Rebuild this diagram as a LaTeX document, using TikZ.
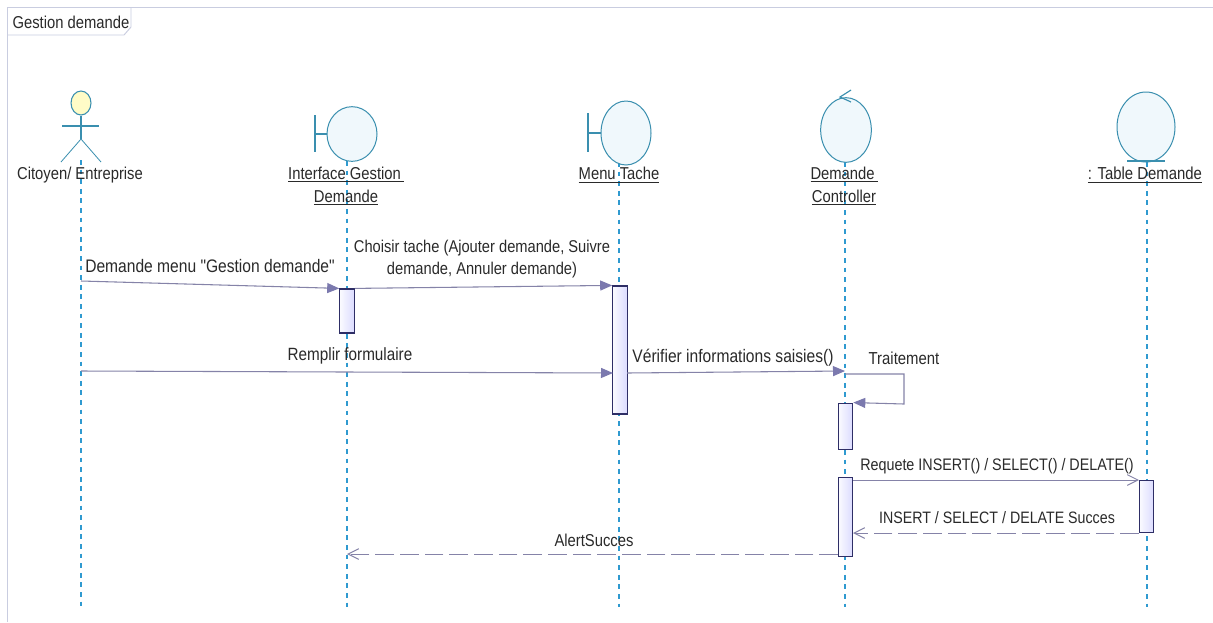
\documentclass[tikz,border=0pt]{standalone}
\usepackage{fontspec}
\newfontfamily\lblf[FakeStretch=0.86]{Liberation Sans}
\usetikzlibrary{arrows.meta,shapes.geometric}
\definecolor{lifec}{HTML}{2F9AD0}
\definecolor{iconc}{HTML}{3A8FAF}
\definecolor{iconf}{HTML}{F0F8FC}
\definecolor{msgc}{HTML}{8583A8}
\definecolor{tipc}{HTML}{7B79AE}
\definecolor{actc}{HTML}{2E2E66}
\definecolor{txtc}{HTML}{2A2A2A}
\definecolor{framec}{HTML}{C9CDE0}
\newcommand{\fsz}[1]{\lblf\fontsize{#1}{16.5pt}\selectfont}
\tikzset{
  x=0.75pt,y=-0.75pt,
  every node/.style={font=\fsz{12.9pt},text=txtc,inner sep=0pt,align=center},
  lifeline/.style={draw=lifec,line width=0.9pt,dash pattern=on 3.6pt off 3.6pt},
  icon/.style={draw=iconc,line width=0.75pt,fill=iconf,ellipse},
  iconline/.style={draw=iconc,line width=0.85pt},
  act/.style={draw=actc,line width=0.9pt,left color=white!70!blue!6,right color=blue!14,minimum width=10.8pt,rectangle},
  msg/.style={draw=msgc,line width=0.8pt,-{Triangle[length=9pt,width=7.5pt,fill=tipc,color=tipc]}},
  msgopen/.style={draw=msgc,line width=0.75pt,-{Straight Barb[length=8pt,width=8pt,color=msgc]}},
  msgdash/.style={msgopen,dash pattern=on 14pt off 4.5pt},
}
\begin{document}
\begin{tikzpicture}
\useasboundingbox (0,0) rectangle (1213,622);
\fill[white] (0,0) rectangle (1213,622);
% frame
\draw[framec,line width=0.7pt] (7,622) -- (7,7) -- (1213,7);
\draw[framec,line width=0.7pt] (7,35) -- (124,35) -- (131,27) -- (131,7);
\node (title) at (71,22) {Gestion demande};

% free ends of the lifelines
\coordinate (endA) at (81,607);
\coordinate (endB) at (347,607);
\coordinate (endC) at (619,607);
\coordinate (endD) at (845,607);
\coordinate (endE) at (1147,607);
\coordinate (startA) at (81,160);
\coordinate (startB) at (347,161);
\coordinate (startC) at (619,162);
\coordinate (startD) at (845,162);
\coordinate (startE) at (1147,162);

% lifelines
\draw[lifeline] (startA) -- (endA);
\draw[lifeline] (startB) -- (endB);
\draw[lifeline] (startC) -- (endC);
\draw[lifeline] (startD) -- (endD);
\draw[lifeline] (startE) -- (endE);

% actor
\node[draw=iconc,line width=0.8pt,ellipse,fill=yellow!22,minimum width=15pt,minimum height=18pt] (head) at (81,103) {};
\coordinate (hip) at (81,139);
\coordinate (armL) at (62,126);
\coordinate (armR) at (99,126);
\coordinate (legL) at (61,162);
\coordinate (legR) at (101,162);
\draw[iconline] (head.south) -- (hip);
\draw[iconline] (armL) -- (armR);
\draw[iconline,line width=0.6pt] (legL) -- (hip) -- (legR);
\node (lblA) at (80,175) {Citoyen/ Entreprise};

% boundary 1
\node[icon,minimum width=37.5pt,minimum height=41pt] (circB) at (352,134) {};
\coordinate (bB1) at (315,115);
\coordinate (bB2) at (315,152);
\coordinate (bB3) at (315,134);
\draw[iconline] (bB1) -- (bB2);
\draw[iconline] (bB3) -- (circB.west);
\node (lblB) at (346,186) {\underline{Interface Gestion\,}\\[1pt]\underline{Demande}};

% boundary 2
\node[icon,minimum width=37.5pt,minimum height=48pt] (circC) at (626,133) {};
\coordinate (bC1) at (588,113);
\coordinate (bC2) at (588,152);
\coordinate (bC3) at (588,133);
\draw[iconline] (bC1) -- (bC2);
\draw[iconline] (bC3) -- (circC.west);
\node (lblC) at (619,175) {\underline{Menu Tache}};

% control
\node[icon,minimum width=38pt,minimum height=48.5pt] (circD) at (846,130) {};
\coordinate (cD0) at (840,97);
\coordinate (cD1) at (851,90);
\coordinate (cD2) at (851,102);
\draw[iconline] (cD1) -- (cD0) -- (cD2);
\node (lblD) at (844,186) {\underline{Demande\,}\\[1pt]\underline{Controller}};

% entity
\node[icon,minimum width=43.5pt,minimum height=52.5pt] (circE) at (1146,127) {};
\coordinate (uE1) at (1127,161);
\coordinate (uE2) at (1165,161);
\draw[iconline] (uE1) -- (uE2);
\node[font=\fsz{13pt}] (lblE) at (1145,175) {\underline{: Table Demande}};

% activations
\node[act,minimum height=33pt] (actB) at (347,311) {};
\node[act,minimum height=96pt] (actC) at (620,350) {};
\node[act,minimum height=35pt] (actD1) at (845.5,426.5) {};
\node[act,minimum height=59.5pt] (actD2) at (845.5,517) {};
\node[act,minimum height=39.5pt] (actE) at (1146.5,506.5) {};

% message ends
\coordinate (m1s) at (81,281);
\coordinate (m3s) at (81,371);
\coordinate (m3e) at (613,373);
\coordinate (m4e) at (845,371);
\coordinate (m4s) at (627,373);
\coordinate (t1) at (845,374);
\coordinate (t2) at (904,374);
\coordinate (t3) at (904,404);
\coordinate (m5s) at (853,480);
\coordinate (m5e) at (1139,480);
\coordinate (m6s) at (1139,533);
\coordinate (m6e) at (853,533);
\coordinate (m7s) at (838,554);
\coordinate (m7e) at (347,554);

% messages
\draw[msg] (m1s) -- (actB.north west);
\draw[msg] (actB.north east) -- (actC.north west);
\draw[msg] (m3s) -- (m3e);
\draw[msg] (m4s) -- (m4e);
\draw[msg] (t1) -- (t2) -- (t3) -- (actD1.north east);
\draw[msgopen] (m5s) -- (m5e);
\draw[msgdash] (m6s) -- (m6e);
\draw[msgdash] (m7s) -- (m7e);

% labels
\node[font=\fsz{13.6pt}] (l1) at (210,266) {Demande menu "Gestion demande"};
\node[font=\fsz{12.8pt}] (l2) at (482,259) {Choisir tache (Ajouter demande, Suivre\\demande, Annuler demande)};
\node[font=\fsz{13.3pt}] (l3) at (350,356) {Remplir formulaire};
\node[font=\fsz{13.6pt}] (l4) at (733,358) {Vérifier informations saisies()};
\node[font=\fsz{13pt}] (l5) at (904,358) {Traitement};
\node[font=\fsz{12.5pt}] (l6) at (997,466) {Requete INSERT() / SELECT() / DELATE()};
\node[font=\fsz{12.4pt}] (l7) at (997,518) {INSERT / SELECT / DELATE Succes};
\node (l8) at (594,540) {AlertSucces};
\end{tikzpicture}
\end{document}
